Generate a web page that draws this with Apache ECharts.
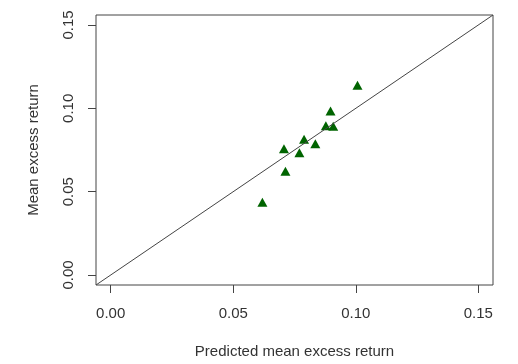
<!DOCTYPE html>
<html>
<head>
<meta charset="utf-8">
<script src="https://cdn.jsdelivr.net/npm/echarts@6/dist/echarts.min.js"></script>
<style>
  html, body { margin: 0; padding: 0; background: #fff; }
  #chart { width: 518px; height: 364px; }
</style>
</head>
<body>
<div id="chart"></div>
<script>
// predicted vs realised mean excess return
let predicted = [0.1007, 0.0897, 0.0878, 0.0908, 0.0789, 0.0835, 0.0707, 0.0770, 0.0713, 0.0619]
let actual = [0.1139, 0.0984, 0.0896, 0.0892, 0.0814, 0.0788, 0.0758, 0.0734, 0.0623, 0.0437]
let tickValues = [0, 0.05, 0.10, 0.15]
let axisRange = [-0.006, 0.156]

let points = predicted.map((p, i) => [p, actual[i]])
let diagonal = axisRange.map(v => [v, v])

let font = 'Liberation Sans, Arial, sans-serif'
let textColor = '#333'

function axis(name, gap, labelMargin, rotate) {
  return {
    type: 'value',
    min: axisRange[0],
    max: axisRange[1],
    name: name,
    nameLocation: 'middle',
    nameGap: gap,
    nameRotate: rotate ? 90 : 0,
    nameTextStyle: { fontFamily: font, fontSize: 15, color: textColor },
    axisLine: { show: false, onZero: false },
    splitLine: { show: false },
    axisTick: {
      show: true, length: 8, customValues: tickValues,
      lineStyle: { color: '#444', width: 1 }
    },
    axisLabel: {
      customValues: tickValues,
      margin: labelMargin,
      rotate: rotate ? 90 : 0,
      fontFamily: font,
      fontSize: 15,
      color: textColor,
      formatter: v => v.toFixed(2)
    }
  }
}

let chart = echarts.init(document.getElementById('chart'), null, { renderer: 'canvas' })
chart.setOption({
  animation: false,
  backgroundColor: '#fff',
  grid: {
    left: 96, right: 25, top: 15, bottom: 79,
    show: true, borderColor: '#444', borderWidth: 1, backgroundColor: 'transparent'
  },
  xAxis: axis('Predicted mean excess return', 59, 21, false),
  yAxis: axis('Mean excess return', 55, 20, true),
  series: [
    {
      type: 'line',
      data: diagonal,
      symbol: 'none',
      silent: true,
      lineStyle: { color: '#444', width: 1 }
    },
    {
      type: 'scatter',
      data: points,
      symbol: 'triangle',
      symbolSize: [10, 9],
      itemStyle: { color: '#006400', opacity: 1 }
    }
  ]
})
</script>
</body>
</html>
